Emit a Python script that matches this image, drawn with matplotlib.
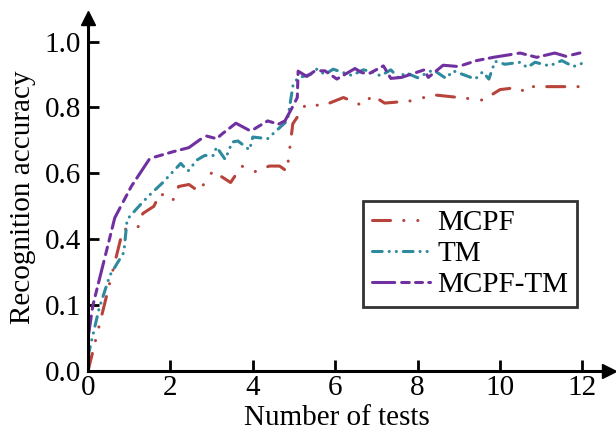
import matplotlib
matplotlib.use("Agg")
import matplotlib.pyplot as plt
import matplotlib.transforms as mtransforms

plt.rcParams['font.family'] = ['Liberation Serif', 'DejaVu Serif']
plt.rcParams['lines.scale_dashes'] = False

# ---- data ----
red_x = [0, 0.85, 1.2, 1.33, 1.6, 1.75, 2.05, 2.2, 2.45, 2.69, 3.03, 3.46, 3.73, 4.05, 4.4, 4.65,
         4.83, 4.97, 5.29, 5.7, 6.2, 6.67, 6.9, 7.2, 7.85, 8.4, 9.0, 9.59, 10.0, 10.4, 10.66,
         10.8, 12.0]
red_y = [0.0, 0.43, 0.432, 0.478, 0.5, 0.54, 0.515, 0.56, 0.566, 0.545, 0.607, 0.572, 0.622,
         0.605, 0.622, 0.622, 0.606, 0.75, 0.81, 0.805, 0.83, 0.805, 0.837, 0.813, 0.82, 0.838,
         0.83, 0.822, 0.854, 0.86, 0.845, 0.863, 0.863]

teal_x = [0, 0.27, 0.53, 0.87, 0.95, 1.2, 1.46, 1.8, 2.1, 2.25, 2.43, 2.64, 2.83, 3.05, 3.12,
          3.33, 3.5, 3.64, 3.92, 4.0, 4.36, 4.84, 4.98, 5.1, 5.4, 5.55, 5.75, 5.95, 6.4, 6.68,
          6.85, 7.1, 7.35, 7.55, 7.7, 8.0, 8.38, 8.69, 8.86, 9.4, 9.58, 9.73, 9.88, 10.12,
          10.49, 10.66, 10.85, 11.2, 11.5, 11.78, 12.0]
teal_y = [0.045, 0.19, 0.29, 0.36, 0.46, 0.495, 0.53, 0.57, 0.61, 0.63, 0.607, 0.64, 0.654,
          0.654, 0.68, 0.642, 0.695, 0.698, 0.671, 0.71, 0.705, 0.76, 0.87, 0.89, 0.9, 0.916,
          0.9, 0.916, 0.897, 0.914, 0.91, 0.896, 0.914, 0.888, 0.906, 0.89, 0.914, 0.888,
          0.911, 0.886, 0.908, 0.886, 0.94, 0.931, 0.937, 0.921, 0.937, 0.926, 0.942, 0.924,
          0.934]

purple_x = [0, 0.12, 0.65, 1.05, 1.5, 2.05, 2.45, 2.75, 2.88, 3.12, 3.27, 3.59, 3.95, 4.36,
            4.62, 4.78, 4.98, 5.08, 5.1, 5.31, 5.51, 5.75, 6.04, 6.48, 6.64, 6.8, 7.17, 7.35,
            7.61, 8.16, 8.26, 8.62, 8.99, 9.43, 9.84, 10.49, 10.89, 11.33, 11.6, 12.0]
purple_y = [0.1, 0.2, 0.465, 0.56, 0.645, 0.665, 0.678, 0.705, 0.713, 0.705, 0.721, 0.752,
            0.728, 0.759, 0.749, 0.759, 0.805, 0.83, 0.91, 0.894, 0.911, 0.911, 0.886, 0.918,
            0.906, 0.901, 0.926, 0.888, 0.891, 0.914, 0.891, 0.928, 0.924, 0.942, 0.952, 0.965,
            0.952, 0.965, 0.955, 0.967]

labels = ['MCPF', 'TM', 'MCPF-TM']
xticks = [0, 2, 4, 6, 8, 10, 12]
yticks = [0.0, 0.2, 0.4, 0.6, 0.8, 1.0]
ytick_labels = ['0.0', '0.1', '0.4', '0.6', '0.8', '1.0']

# ---- figure ----
W, H = 616, 437
fig = plt.figure(figsize=(W / 100, H / 100), dpi=100)
left, right, bottom, top = 88, 603, 371, 24
ax = fig.add_axes([left / W, (H - bottom) / H, (right - left) / W, (bottom - top) / H])

lw = 2.2
ax.plot(red_x, red_y, color='#B8433A', lw=lw, dashes=(13, 9.5, 0.1, 10, 0.1, 9.5),
        dash_capstyle='round', solid_capstyle='round', label=labels[0])
ax.plot(teal_x, teal_y, color='#2E8A9E', lw=lw, dashes=(7, 5, 0.1, 5, 0.1, 5),
        dash_capstyle='round', label=labels[1])
ax.plot(purple_x, purple_y, color='#7030A0', lw=lw, dashes=(16, 5, 5.5, 4.5, 5, 4.5),
        dash_capstyle='round', label=labels[2])

ax.set_xlim(0, (right - left) / 41.2)
ax.set_ylim(0, (bottom - top) / 329.5)
ax.set_xticks(xticks)
ax.set_yticks(yticks)
ax.set_yticklabels(ytick_labels)

fs = 21
ax.tick_params(direction='in', length=8, width=2, labelsize=fs, pad=5)
ax.tick_params(axis='x', pad=3)
for s in ['top', 'right']:
    ax.spines[s].set_visible(False)
for s in ['left', 'bottom']:
    ax.spines[s].set_linewidth(2.2)

ax.set_xlabel('Number of tests', fontsize=fs, labelpad=0)
ax.xaxis.set_label_coords((337 - left) / (right - left), -(425 - bottom) / (bottom - top),
                          transform=ax.transAxes)
ax.xaxis.label.set_va('baseline')
ax.set_ylabel('Recognition accuracy', fontsize=fs, labelpad=6)

# arrow heads at spine ends
tr_r = mtransforms.offset_copy(ax.transAxes, fig=fig, x=4, y=0, units='points')
tr_t = mtransforms.offset_copy(ax.transAxes, fig=fig, x=0, y=4, units='points')
ax.plot([1], [0], marker='>', color='black', ms=10, transform=tr_r, clip_on=False)
ax.plot([0], [1], marker='^', color='black', ms=10, transform=tr_t, clip_on=False)

leg = ax.legend(loc='upper left', bbox_to_anchor=((363 - left) / (right - left),
                                                   (bottom - 201) / (bottom - top)),
                fontsize=fs, frameon=True, fancybox=False, edgecolor='black',
                handlelength=2.0, handletextpad=0.25, labelspacing=0.15,
                borderpad=0.3, borderaxespad=0)
leg.get_frame().set_linewidth(2)

fig.savefig('out.png', dpi=100)
